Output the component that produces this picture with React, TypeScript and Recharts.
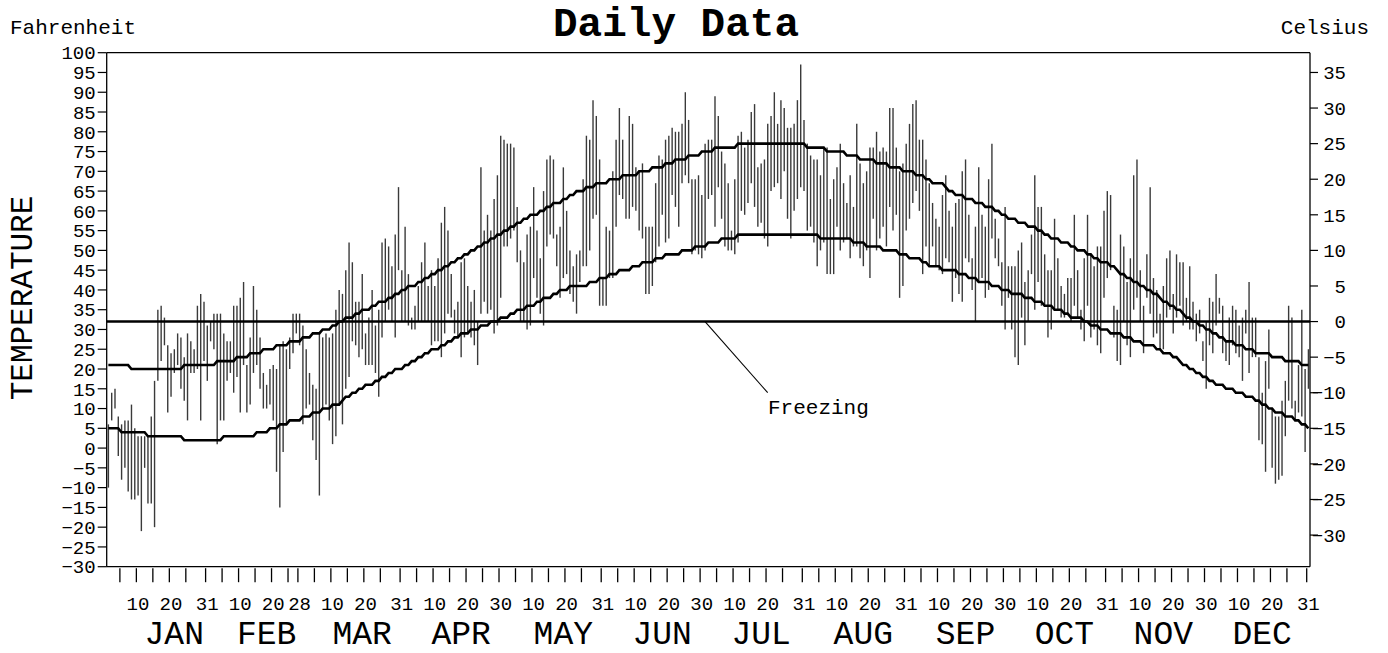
import React from "react";
import { Bar, ComposedChart, Line, ReferenceLine, XAxis, YAxis } from "recharts";

const FONT = "'Courier New', 'Liberation Mono', monospace";
const INK = "#000000";
const BAR_INK = "#3a3a3a";

const W = 1388;
const H = 653;
const LEFT_W = 106.7;
const RIGHT_W = 78;
const TOP = 52.7;
const DAY_AXIS_H = 46;
const MONTH_AXIS_H = 40.3;
const BAND = (W - RIGHT_W - LEFT_W) / 365;

const MONTHS = ["JAN", "FEB", "MAR", "APR", "MAY", "JUN", "JUL", "AUG", "SEP", "OCT", "NOV", "DEC"];
const MONTH_LENGTHS = [31, 28, 31, 30, 31, 30, 31, 31, 30, 31, 30, 31];
// day of month under which the month name sits
const MONTH_LABEL_AT = [21, 18, 19, 18, 19, 18, 18, 18, 18, 18, 17, 17];

const F_TICKS = [-30, -25, -20, -15, -10, -5, 0, 5, 10, 15, 20, 25, 30, 35, 40, 45, 50, 55, 60, 65, 70, 75, 80, 85, 90, 95, 100];
const C_TICKS = [-30, -25, -20, -15, -10, -5, 0, 5, 10, 15, 20, 25, 30, 35];
const F_DOMAIN = [-30, 100];
const C_DOMAIN = [((-30 - 32) * 5) / 9, ((100 - 32) * 5) / 9];
const FREEZING_F = 32;

// daily observed highs, one row per month
const DAILY_HIGH = [
  6, 14, 15, 8, 6, 7, 7, 11, 5, 3, 3, 3, 3, 8, 17, 35, 36, 33, 26, 24, 25, 29, 28, 23, 29, 27, 25, 36, 39, 37, 31,
  32, 34, 34, 34, 29, 27, 27, 36, 36, 38, 42, 21, 28, 41, 35, 28, 19, 16, 20, 21, 20, 26, 27, 25, 28, 34, 34, 34,
  31, 25, 19, 16, 15, 29, 28, 29, 28, 29, 35, 40, 39, 45, 52, 47, 37, 37, 44, 29, 33, 40, 31, 35, 52, 53, 51, 46, 54, 66, 45,
  56, 44, 33, 36, 41, 47, 52, 41, 45, 41, 48, 57, 61, 55, 44, 35, 37, 47, 48, 41, 37, 40, 32, 71, 55, 59, 55, 63, 69, 79,
  78, 77, 77, 76, 61, 50, 47, 54, 56, 66, 55, 48, 65, 73, 74, 73, 54, 56, 71, 60, 50, 46, 49, 50, 68, 79, 78, 88, 84, 73, 43,
  56, 55, 70, 78, 86, 78, 69, 84, 82, 71, 70, 72, 56, 56, 56, 67, 74, 73, 78, 79, 81, 80, 80, 82, 90, 83, 68, 68, 69, 64,
  77, 78, 78, 89, 84, 75, 72, 67, 55, 68, 79, 80, 76, 78, 85, 87, 71, 72, 73, 82, 84, 90, 82, 88, 86, 81, 81, 82, 88, 97, 83,
  77, 74, 73, 73, 69, 76, 76, 63, 68, 71, 77, 67, 62, 69, 61, 82, 72, 67, 70, 76, 76, 80, 75, 76, 75, 86, 86, 76, 70, 72, 77,
  82, 87, 88, 78, 78, 73, 67, 62, 58, 56, 64, 69, 60, 56, 62, 63, 70, 73, 59, 48, 56, 71, 59, 56, 68, 77, 58, 53, 47, 61,
  46, 46, 46, 50, 52, 42, 45, 54, 69, 61, 61, 49, 45, 45, 58, 48, 41, 39, 43, 43, 59, 45, 35, 48, 59, 49, 46, 51, 51, 60, 65,
  64, 36, 35, 54, 51, 42, 48, 69, 73, 45, 36, 49, 66, 43, 40, 34, 41, 48, 50, 39, 49, 47, 47, 38, 46, 37, 34, 35, 27, 32,
  38, 37, 44, 38, 36, 27, 33, 36, 35, 31, 33, 35, 42, 33, 33, 23, 14, 22, 30, 10, 8, 8, 12, 17, 36, 33, 12, 21, 35, 20, 25,
];

// daily observed lows, one row per month
const DAILY_LOW = [
  -10, 7, 10, -2, -8, -5, -11, -13, -13, -12, -21, -5, -14, -14, -20, 17, 22, 26, 9, 13, 19, 21, 15, 12, 7, 19, 19, 20, 7, 22, 17,
  27, 25, 1, 7, 7, 17, 19, 14, 18, 9, 21, 9, 11, 19, 21, 15, 10, 10, 11, 7, -6, -15, -1, 6, 20, 24, 29, 26,
  6, 10, 11, 2, -3, -12, 10, 11, 7, 1, 3, 11, 6, 15, 18, 27, 26, 23, 25, 21, 21, 21, 19, 13, 28, 32, 35, 32, 28, 45, 32,
  32, 31, 30, 30, 32, 32, 32, 32, 26, 27, 27, 23, 29, 34, 33, 29, 28, 23, 28, 29, 28, 26, 21, 34, 37, 34, 35, 29, 31, 38,
  51, 51, 53, 55, 47, 32, 32, 30, 31, 43, 38, 34, 31, 51, 54, 53, 46, 38, 43, 44, 39, 37, 34, 42, 46, 46, 50, 58, 59, 36, 36,
  36, 43, 43, 56, 64, 63, 58, 58, 61, 60, 55, 53, 39, 39, 41, 47, 51, 59, 52, 53, 64, 61, 56, 67, 69, 67, 49, 50, 49, 48,
  50, 63, 64, 56, 66, 58, 51, 50, 50, 49, 52, 60, 59, 62, 67, 61, 56, 57, 53, 51, 65, 66, 67, 63, 70, 58, 53, 60, 63, 66, 65,
  55, 56, 52, 46, 50, 52, 44, 44, 44, 56, 50, 52, 53, 48, 51, 51, 48, 46, 50, 43, 58, 50, 53, 56, 51, 61, 55, 59, 38, 41, 55,
  58, 62, 65, 60, 44, 51, 46, 51, 46, 45, 44, 48, 47, 37, 43, 39, 37, 48, 47, 40, 32, 42, 43, 38, 40, 53, 48, 46, 36, 30,
  38, 30, 23, 21, 33, 26, 32, 44, 35, 42, 36, 36, 28, 30, 35, 35, 33, 33, 34, 32, 36, 33, 30, 27, 36, 28, 30, 26, 24, 38, 43,
  45, 28, 22, 21, 32, 26, 23, 35, 38, 32, 24, 38, 34, 28, 29, 25, 25, 33, 35, 29, 33, 36, 31, 32, 30, 30, 27, 29, 22, 15,
  26, 24, 31, 34, 24, 22, 21, 26, 24, 23, 17, 29, 19, 23, 23, 2, 1, -6, 15, -5, -9, -8, -7, 3, 12, 10, 7, 9, 8, -1, 15,
];

// normal high / low as [degrees F, number of days]
const NORMAL_HIGH_RUNS = [
  [21, 7], [20, 16], [21, 10], [22, 6], [23, 4], [24, 4], [25, 4], [26, 4], [27, 4], [28, 3], [29, 3], [30, 3],
  [31, 2], [32, 2], [33, 3], [34, 2], [35, 3], [36, 2], [37, 3], [38, 2], [39, 2], [40, 2], [41, 3], [42, 2],
  [43, 2], [44, 2], [45, 2], [46, 2], [47, 2], [48, 2], [49, 2], [50, 2], [51, 2], [52, 2], [53, 2], [54, 2],
  [55, 2], [56, 2], [57, 2], [58, 2], [59, 3], [60, 2], [61, 2], [62, 3], [63, 2], [64, 2], [65, 3], [66, 3],
  [67, 4], [68, 4], [69, 5], [70, 4], [71, 4], [72, 3], [73, 4], [74, 4], [75, 4], [76, 7], [77, 21], [76, 6],
  [75, 6], [74, 4], [73, 5], [72, 4], [71, 4], [70, 4], [69, 3], [68, 2], [67, 4], [66, 1], [65, 2], [64, 3],
  [63, 3], [62, 3], [61, 3], [60, 2], [59, 2], [58, 3], [57, 3], [56, 3], [55, 2], [54, 2], [53, 3], [52, 3],
  [51, 2], [50, 3], [49, 2], [48, 2], [47, 3], [46, 2], [45, 1], [44, 2], [43, 2], [42, 2], [41, 2], [40, 2],
  [39, 2], [38, 1], [37, 2], [36, 2], [35, 2], [34, 1], [33, 2], [32, 2], [31, 2], [30, 2], [29, 2], [28, 2],
  [27, 3], [26, 3], [25, 3], [24, 5], [23, 4], [22, 5], [21, 3],
];

const NORMAL_LOW_RUNS = [
  [5, 4], [4, 8], [3, 11], [2, 12], [3, 10], [4, 4], [5, 3], [6, 3], [7, 4], [8, 3], [9, 3], [10, 3],
  [11, 3], [12, 1], [13, 2], [14, 2], [15, 2], [16, 3], [17, 2], [18, 2], [19, 2], [20, 3], [21, 2], [22, 2],
  [23, 2], [24, 2], [25, 3], [26, 2], [27, 2], [28, 2], [29, 3], [30, 3], [31, 3], [32, 3], [33, 3], [34, 2],
  [35, 3], [36, 3], [37, 2], [38, 3], [39, 2], [40, 3], [41, 6], [42, 3], [43, 3], [44, 3], [45, 4], [46, 3],
  [47, 4], [48, 3], [49, 5], [50, 4], [51, 4], [52, 4], [53, 5], [54, 25], [53, 10], [52, 4], [51, 5], [50, 5],
  [49, 3], [48, 4], [47, 2], [46, 4], [45, 5], [44, 3], [43, 3], [42, 4], [41, 3], [40, 3], [39, 4], [38, 3],
  [37, 3], [36, 3], [35, 3], [34, 2], [33, 4], [32, 2], [31, 3], [30, 3], [29, 4], [28, 3], [27, 3], [26, 4],
  [25, 2], [24, 3], [23, 2], [22, 1], [21, 2], [20, 2], [19, 2], [18, 2], [17, 2], [16, 3], [15, 3], [14, 3],
  [13, 3], [12, 2], [11, 2], [10, 2], [9, 3], [8, 3], [7, 2], [6, 2], [5, 1],
];

function expandRuns(runs: number[][]): number[] {
  const out: number[] = [];
  runs.forEach(([v, n]) => {
    for (let i = 0; i < n; i++) out.push(v);
  });
  return out;
}

const NORMAL_HIGH = expandRuns(NORMAL_HIGH_RUNS);
const NORMAL_LOW = expandRuns(NORMAL_LOW_RUNS);

const rows = DAILY_HIGH.map((hi, i) => ({
  day: i + 1,
  range: [DAILY_LOW[i], hi],
  normHigh: NORMAL_HIGH[i],
  normLow: NORMAL_LOW[i],
}));

const MONTH_START: number[] = [];
MONTH_LENGTHS.reduce((acc, n) => {
  MONTH_START.push(acc);
  return acc + n;
}, 0);

const TICK_DAYS: number[] = [];
const DAY_LABELS = new Map<number, string>();
MONTH_LENGTHS.forEach((len, m) => {
  [5, 10, 15, 20, 25, len].forEach((d) => TICK_DAYS.push(MONTH_START[m] + d));
  [10, 20, len].forEach((d) => DAY_LABELS.set(MONTH_START[m] + d, String(d)));
});
const MONTH_TICKS = MONTH_LABEL_AT.map((d, m) => MONTH_START[m] + d);

const minus = (v: number) => (v < 0 ? `\u2212${Math.abs(v)}` : String(v));

function DayTick(props: any) {
  const { x, y, payload } = props;
  const label = DAY_LABELS.get(payload.value);
  const tx = x - BAND / 2;
  return (
    <g>
      <line x1={tx} x2={tx} y1={y + 1.5} y2={y + 15.5} stroke={INK} strokeWidth={1.3} />
      {label !== undefined && (
        <text x={x} y={y + 43} textAnchor="middle" fontFamily={FONT} fontSize={19} fill={INK}>
          {label}
        </text>
      )}
    </g>
  );
}

function MonthTick(props: any) {
  const { x, y, payload } = props;
  const m = MONTH_TICKS.indexOf(payload.value);
  if (m < 0) return null;
  return (
    <text x={x} y={y + 31} textAnchor="middle" fontFamily={FONT} fontSize={33} fill={INK}>
      {MONTHS[m]}
    </text>
  );
}

function CelsiusTick(props: any) {
  const { x, y, payload } = props;
  return (
    <text x={x + 26} y={y} dy="0.355em" textAnchor="end" fontFamily={FONT} fontSize={19} fill={INK}>
      {minus(payload.value)}
    </text>
  );
}

export default function App() {
  return (
    <div style={{ position: "absolute", left: 0, top: 0, width: W, height: H, background: "#ffffff" }}>
      <ComposedChart
        width={W}
        height={H}
        data={rows}
        margin={{ top: TOP, right: 0, bottom: 0, left: 0 }}
      >
        <XAxis
          xAxisId="day"
          dataKey="day"
          type="category"
          ticks={TICK_DAYS}
          interval={0}
          height={DAY_AXIS_H}
          tickLine={false}
          tickSize={0}
          tickMargin={0}
          tick={<DayTick />}
          axisLine={{ stroke: INK, strokeWidth: 1.3 }}
        />
        <XAxis
          xAxisId="month"
          dataKey="day"
          type="category"
          ticks={MONTH_TICKS}
          interval={0}
          height={MONTH_AXIS_H}
          tickLine={false}
          tickSize={0}
          tickMargin={0}
          tick={<MonthTick />}
          axisLine={false}
        />
        <YAxis
          yAxisId="f"
          type="number"
          domain={F_DOMAIN}
          ticks={F_TICKS}
          interval={0}
          width={LEFT_W}
          tickSize={9}
          tickMargin={2}
          tickFormatter={minus}
          tick={{ fontFamily: FONT, fontSize: 19, fill: INK }}
          tickLine={{ stroke: INK, strokeWidth: 1.2 }}
          axisLine={{ stroke: INK, strokeWidth: 1.3 }}
        />
        <YAxis
          yAxisId="c"
          orientation="right"
          type="number"
          domain={C_DOMAIN}
          allowDataOverflow
          ticks={C_TICKS}
          interval={0}
          width={RIGHT_W}
          tickSize={8}
          tickMargin={2}
          tick={<CelsiusTick />}
          tickLine={{ stroke: INK, strokeWidth: 1.2 }}
          axisLine={{ stroke: INK, strokeWidth: 1.3 }}
        />
        <Bar
          xAxisId="day"
          yAxisId="f"
          dataKey="range"
          fill={BAR_INK}
          barSize={1.4}
          isAnimationActive={false}
        />
        <Line
          xAxisId="day"
          yAxisId="f"
          dataKey="normHigh"
          type="linear"
          stroke={INK}
          strokeWidth={2.6}
          dot={false}
          activeDot={false}
          isAnimationActive={false}
        />
        <Line
          xAxisId="day"
          yAxisId="f"
          dataKey="normLow"
          type="linear"
          stroke={INK}
          strokeWidth={2.6}
          dot={false}
          activeDot={false}
          isAnimationActive={false}
        />
        <Line
          xAxisId="month"
          yAxisId="f"
          dataKey="normLow"
          stroke="none"
          dot={false}
          activeDot={false}
          legendType="none"
          isAnimationActive={false}
        />
        <ReferenceLine xAxisId="day" yAxisId="f" y={FREEZING_F} stroke={INK} strokeWidth={2.6} />
        <ReferenceLine xAxisId="day" yAxisId="f" y={100} stroke={INK} strokeWidth={1.3} />
        <ReferenceLine
          xAxisId="day"
          yAxisId="f"
          segment={[
            { x: 182, y: FREEZING_F },
            { x: 201, y: 14 },
          ]}
          stroke={INK}
          strokeWidth={1.1}
        />
      </ComposedChart>
      <svg
        width={W}
        height={H}
        style={{ position: "absolute", left: 0, top: 0, pointerEvents: "none" }}
      >
        <text x={676} y={36} textAnchor="middle" fontFamily={FONT} fontWeight="bold" fontSize={41} fill={INK}>
          Daily Data
        </text>
        <text x={10} y={34} fontFamily={FONT} fontSize={21} fill={INK}>
          Fahrenheit
        </text>
        <text x={1369} y={34} textAnchor="end" fontFamily={FONT} fontSize={21} fill={INK}>
          Celsius
        </text>
        <text
          transform="translate(32 298) rotate(-90)"
          textAnchor="middle"
          fontFamily={FONT}
          fontSize={31}
          fill={INK}
        >
          TEMPERATURE
        </text>
        <text x={768} y={414} fontFamily={FONT} fontSize={21} fill={INK}>
          Freezing
        </text>
      </svg>
    </div>
  );
}
